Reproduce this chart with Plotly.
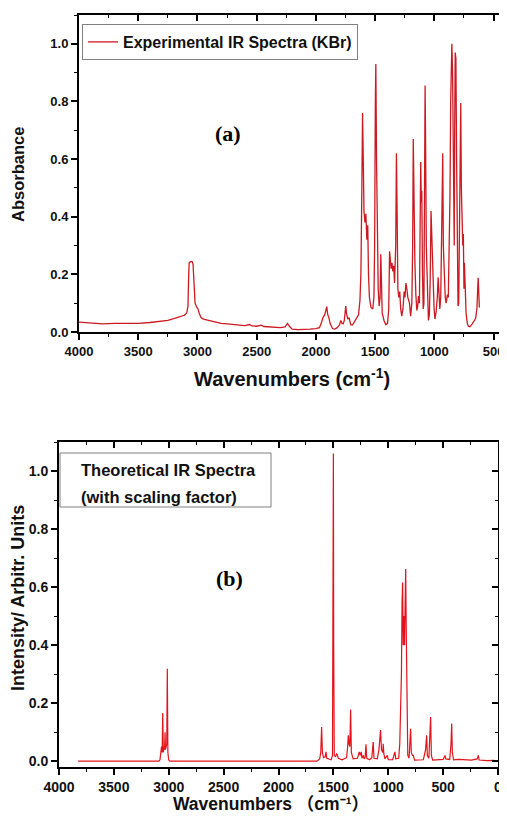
import plotly.graph_objects as go

# ---------------- data ----------------
exp_wavenumber = [
    4000, 3900, 3800, 3700, 3600, 3500, 3400, 3300, 3250, 3200, 3150, 3110, 3090, 3080, 3075,
    3070, 3060, 3045, 3037, 3030, 3020, 3005, 2995, 2985, 2970, 2950, 2900, 2850, 2800, 2750,
    2700, 2650, 2600, 2560, 2540, 2500, 2460, 2440, 2400, 2350, 2300, 2260, 2240, 2220, 2200,
    2150, 2100, 2050, 2000, 1970, 1955, 1940, 1925, 1915, 1908, 1900, 1890, 1880, 1860, 1840,
    1820, 1800, 1790, 1780, 1770, 1760, 1748, 1740, 1730, 1720, 1705, 1690, 1670, 1655, 1640,
    1628, 1620, 1612, 1606, 1600, 1594, 1586, 1578, 1570, 1562, 1556, 1548, 1535, 1520, 1510,
    1504, 1498, 1494, 1488, 1480, 1474, 1466, 1458, 1452, 1446, 1440, 1425, 1410, 1395, 1385,
    1378, 1372, 1365, 1358, 1350, 1343, 1336, 1326, 1320, 1314, 1308, 1300, 1292, 1284, 1275,
    1265, 1255, 1248, 1240, 1232, 1224, 1210, 1200, 1190, 1183, 1178, 1172, 1164, 1156, 1148,
    1140, 1134, 1126, 1120, 1115, 1110, 1106, 1100, 1094, 1088, 1084, 1080, 1078, 1075, 1068,
    1062, 1056, 1050, 1042, 1035, 1028, 1020, 1010, 1002, 995, 985, 975, 968, 960, 954,
    946, 940, 934, 929, 924, 917, 908, 900, 890, 882, 874, 868, 862, 856, 852,
    846, 840, 836, 832, 828, 824, 818, 812, 806, 800, 794, 788, 782, 777, 772,
    766, 760, 755, 750, 746, 740, 732, 722, 712, 700, 690, 680, 670, 660, 650,
    640, 634, 630, 626, 620,
]
exp_absorbance = [
    0.034, 0.030, 0.028, 0.030, 0.029, 0.030, 0.033, 0.036, 0.040, 0.046, 0.052, 0.058, 0.066, 0.090, 0.180,
    0.240, 0.244, 0.244, 0.235, 0.150, 0.100, 0.085, 0.080, 0.065, 0.050, 0.045, 0.040, 0.035, 0.030, 0.028,
    0.026, 0.024, 0.022, 0.026, 0.021, 0.020, 0.024, 0.019, 0.018, 0.017, 0.015, 0.018, 0.030, 0.018, 0.010,
    0.008, 0.008, 0.010, 0.012, 0.015, 0.030, 0.050, 0.060, 0.075, 0.088, 0.060, 0.050, 0.030, 0.012, 0.010,
    0.015, 0.025, 0.040, 0.030, 0.028, 0.040, 0.090, 0.060, 0.045, 0.050, 0.025, 0.025, 0.040, 0.050, 0.060,
    0.110, 0.200, 0.500, 0.760, 0.600, 0.420, 0.380, 0.410, 0.320, 0.370, 0.200, 0.120, 0.085, 0.080, 0.120,
    0.300, 0.800, 0.930, 0.600, 0.300, 0.150, 0.090, 0.120, 0.270, 0.150, 0.065, 0.040, 0.025, 0.030, 0.080,
    0.280, 0.250, 0.220, 0.240, 0.210, 0.230, 0.170, 0.300, 0.620, 0.400, 0.150, 0.120, 0.140, 0.080, 0.055,
    0.080, 0.140, 0.120, 0.170, 0.150, 0.120, 0.100, 0.055, 0.100, 0.300, 0.670, 0.450, 0.240, 0.130, 0.075,
    0.090, 0.125, 0.100, 0.300, 0.590, 0.450, 0.490, 0.200, 0.080, 0.100, 0.400, 0.730, 0.855, 0.720, 0.300,
    0.200, 0.100, 0.040, 0.060, 0.180, 0.420, 0.300, 0.200, 0.080, 0.045, 0.070, 0.120, 0.190, 0.130, 0.080,
    0.120, 0.270, 0.400, 0.620, 0.300, 0.200, 0.120, 0.100, 0.130, 0.120, 0.300, 0.470, 0.800, 0.990, 1.000,
    0.900, 0.600, 0.330, 0.300, 0.700, 0.970, 0.950, 0.600, 0.200, 0.090, 0.100, 0.300, 0.600, 0.795, 0.500,
    0.355, 0.300, 0.340, 0.150, 0.240, 0.120, 0.065, 0.030, 0.020, 0.018, 0.022, 0.028, 0.035, 0.040, 0.050,
    0.085, 0.150, 0.188, 0.150, 0.085,
]

theo_wavenumber = [
    3825, 3090, 3080, 3072, 3066, 3060, 3055, 3050, 3043, 3038, 3034, 3030, 3024, 3018, 3013,
    3008, 3000, 2990, 1650, 1625, 1615, 1607, 1600, 1590, 1575, 1567, 1560, 1520, 1508, 1503,
    1500, 1497, 1492, 1480, 1472, 1464, 1455, 1420, 1380, 1370, 1364, 1358, 1350, 1343, 1336,
    1320, 1280, 1270, 1264, 1256, 1246, 1240, 1227, 1220, 1210, 1203, 1196, 1170, 1150, 1137,
    1130, 1100, 1085, 1070, 1062, 1050, 1046, 1040, 1030, 1009, 1000, 960, 945, 939, 932,
    905, 895, 887, 880, 874, 869, 864, 858, 852, 846, 841, 836, 830, 822, 810,
    800, 796, 790, 780, 772, 760, 680, 660, 650, 644, 630, 622, 614, 607, 595,
    500, 490, 483, 476, 440, 428, 422, 416, 405, 360, 300, 240, 190, 179, 172,
    100, 40, 20, 3,
]
theo_intensity = [
    0.0, 0.0, 0.005, 0.040, 0.050, 0.030, 0.166, 0.030, 0.050, 0.040, 0.100, 0.040, 0.050, 0.060, 0.319,
    0.030, 0.004, 0.0, 0.0, 0.008, 0.030, 0.118, 0.030, 0.012, 0.015, 0.032, 0.010, 0.005, 0.020, 0.400,
    1.060, 0.400, 0.020, 0.015, 0.025, 0.022, 0.010, 0.005, 0.012, 0.050, 0.089, 0.060, 0.050, 0.178, 0.030,
    0.008, 0.010, 0.025, 0.032, 0.020, 0.032, 0.010, 0.020, 0.008, 0.015, 0.058, 0.010, 0.005, 0.012, 0.066,
    0.010, 0.008, 0.040, 0.107, 0.040, 0.030, 0.060, 0.025, 0.008, 0.020, 0.005, 0.005, 0.025, 0.032, 0.008,
    0.010, 0.060, 0.165, 0.300, 0.550, 0.616, 0.400, 0.500, 0.400, 0.600, 0.662, 0.450, 0.100, 0.020, 0.010,
    0.060, 0.112, 0.030, 0.020, 0.020, 0.004, 0.005, 0.040, 0.089, 0.020, 0.010, 0.060, 0.152, 0.020, 0.004,
    0.006, 0.015, 0.020, 0.008, 0.006, 0.060, 0.130, 0.030, 0.005, 0.006, 0.004, 0.004, 0.008, 0.020, 0.004,
    0.002, 0.003, 0.0, 0.0,
]

x_ticks_top = [4000, 3500, 3000, 2500, 2000, 1500, 1000, 500]
x_ticks_bottom = [4000, 3500, 3000, 2500, 2000, 1500, 1000, 500, 0]
y_ticks = [0.0, 0.2, 0.4, 0.6, 0.8, 1.0]

# ---------------- layout helpers ----------------
# the page body has an 8px margin, so the figure is drawn 8px right/down
OFF = 8
W, H = 507 - OFF, 816 - OFF
def fx(p):
    return (p - OFF) / W
def fy(p):
    return 1 - (p - OFF) / H

FONT = "Liberation Sans, Arial, Noto Sans CJK SC, sans-serif"
top_dom_x = [fx(79), fx(506)]
top_dom_y = [fy(332), fy(15)]
bot_dom_x = [fx(59), fx(498)]
bot_dom_y = [fy(767), fy(442)]

fig = go.Figure()
fig.add_trace(go.Scatter(
    x=exp_wavenumber, y=exp_absorbance, mode="lines",
    name="Experimental IR Spectra (KBr)",
    line=dict(color="#cc1a22", width=1.3),
    xaxis="x", yaxis="y", showlegend=True,
))
fig.add_trace(go.Scatter(
    x=theo_wavenumber, y=theo_intensity, mode="lines",
    name="Theoretical IR Spectra (with scaling factor)",
    line=dict(color="#e3121b", width=1.2),
    xaxis="x2", yaxis="y2", showlegend=False,
))
# dummy traces for the mirrored (inward-tick) frame axes
fig.add_trace(go.Scatter(x=[None], y=[None], xaxis="x3", yaxis="y3", showlegend=False, hoverinfo="skip"))
fig.add_trace(go.Scatter(x=[None], y=[None], xaxis="x4", yaxis="y4", showlegend=False, hoverinfo="skip"))

tickfont = dict(family=FONT, size=13, color="#111", weight="bold")
tickfont2 = dict(family=FONT, size=14, color="#111", weight="bold")

def main_x(dom, anchor, rng, vals, tf):
    return dict(domain=dom, anchor=anchor, range=rng, tickvals=vals, automargin=False,
                ticktext=[str(v) for v in vals], ticks="outside", ticklen=6, tickwidth=1.6,
                tickcolor="#000", showline=True, linecolor="#000", linewidth=2, mirror=False,
                showgrid=False, zeroline=False, tickfont=tf,
                minor=dict(dtick=250, tick0=0, ticks="outside", ticklen=3, tickwidth=1.4, tickcolor="#000"))

def main_y(dom, anchor, rng, tf):
    return dict(domain=dom, anchor=anchor, range=rng, tickvals=y_ticks, automargin=False,
                ticktext=["%.1f" % v for v in y_ticks], ticks="outside", ticklen=6, tickwidth=1.6,
                tickcolor="#000", showline=True, linecolor="#000", linewidth=2, mirror=False,
                showgrid=False, zeroline=False, tickfont=tf,
                minor=dict(dtick=0.1, tick0=0, ticks="outside", ticklen=3, tickwidth=1.4, tickcolor="#000"))

def frame_x(over, anchor, rng):
    return dict(overlaying=over, anchor=anchor, side="top", range=rng, dtick=500, tick0=0,
                automargin=False,
                ticks="inside", ticklen=6, tickwidth=1.6, tickcolor="#000", showticklabels=False,
                showline=True, linecolor="#000", linewidth=2, showgrid=False, zeroline=False,
                minor=dict(dtick=250, tick0=0, ticks="inside", ticklen=3, tickwidth=1.4, tickcolor="#000"))

def frame_y(over, anchor, rng):
    return dict(overlaying=over, anchor=anchor, side="right", range=rng, dtick=0.2, tick0=0,
                automargin=False,
                ticks="inside", ticklen=6, tickwidth=1.6, tickcolor="#000", showticklabels=False,
                showline=True, linecolor="#000", linewidth=2, showgrid=False, zeroline=False,
                minor=dict(dtick=0.1, tick0=0, ticks="inside", ticklen=3, tickwidth=1.4, tickcolor="#000"))

top_xr = [4000, 395]
top_yr = [0.0, 1.1]
bot_xr = [4000, 0]
bot_yr = [-0.02, 1.1]

fig.update_layout(
    width=W, height=H,
    margin=dict(l=0, r=0, t=0, b=0, autoexpand=False),
    paper_bgcolor="white", plot_bgcolor="white",
    font=dict(family=FONT, color="#111"),
    xaxis=main_x(top_dom_x, "y", top_xr, x_ticks_top, tickfont),
    yaxis=main_y(top_dom_y, "x", top_yr, tickfont),
    xaxis2=main_x(bot_dom_x, "y2", bot_xr, x_ticks_bottom, tickfont2),
    yaxis2=main_y(bot_dom_y, "x2", bot_yr, tickfont2),
    xaxis3=frame_x("x", "y", top_xr),
    yaxis3=frame_y("y", "x", top_yr),
    xaxis4=frame_x("x2", "y2", bot_xr),
    yaxis4=frame_y("y2", "x2", bot_yr),
    showlegend=True,
    legend=dict(x=fx(82), y=fy(24), xanchor="left", yanchor="top",
                bgcolor="white", bordercolor="#808080", borderwidth=1,
                font=dict(family=FONT, size=16, color="#111", weight="bold"),
                itemwidth=30, tracegroupgap=0),
)

# box around the theoretical spectra label
fig.add_shape(type="rect", xref="paper", yref="paper",
              x0=fx(60), x1=fx(271), y0=fy(507), y1=fy(453),
              line=dict(color="#808080", width=1), fillcolor="rgba(0,0,0,0)")

ann = [
    dict(text="Theoretical IR Spectra", x=fx(79), y=fy(470), xanchor="left", yanchor="middle",
         font=dict(family=FONT, size=16.5, color="#111", weight="bold")),
    dict(text="(with scaling factor)", x=fx(79), y=fy(497), xanchor="left", yanchor="middle",
         font=dict(family=FONT, size=16.5, color="#111", weight="bold")),
    dict(text="<b>(a)</b>", x=fx(228), y=fy(133), xanchor="center", yanchor="middle",
         font=dict(family="Liberation Serif, Times New Roman, serif", size=22, color="#000")),
    dict(text="<b>(b)</b>", x=fx(229), y=fy(578), xanchor="center", yanchor="middle",
         font=dict(family="Liberation Serif, Times New Roman, serif", size=22, color="#000")),
    dict(text="Wavenumbers (cm<sup>-1</sup>)", x=fx(292), y=fy(378), xanchor="center", yanchor="middle",
         font=dict(family=FONT, size=20, color="#111", weight="bold")),
    dict(text="Wavenumbers （cm⁻¹）", x=fx(271), y=fy(804), xanchor="center", yanchor="middle",
         font=dict(family=FONT, size=17.5, color="#111", weight="bold")),
    dict(text="Absorbance", x=fx(18), y=fy(175), xanchor="center", yanchor="middle", textangle=-90,
         font=dict(family=FONT, size=16.5, color="#111", weight="bold")),
    dict(text="Intensity/ Arbitr. Units", x=fx(18), y=fy(598), xanchor="center", yanchor="middle", textangle=-90,
         font=dict(family=FONT, size=18, color="#111", weight="bold")),
]
for a in ann:
    fig.add_annotation(xref="paper", yref="paper", showarrow=False, **a)

fig.write_html("out.html")
